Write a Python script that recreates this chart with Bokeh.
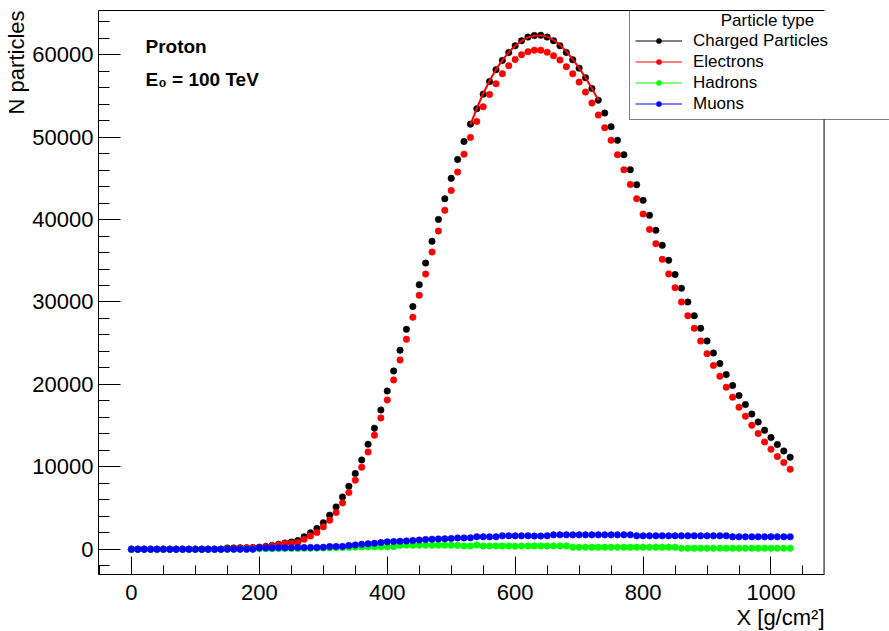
import math
from bokeh.plotting import figure
from bokeh.models import (Range1d, FixedTicker, Label, Legend, LegendItem,
                          ColumnDataSource, CDSView, IndexFilter, Title,
                          LinearAxis)
from bokeh.embed import file_html
from bokeh.resources import INLINE

# ---------------- data ----------------
depth = [0, 10, 20, 30, 40, 50, 60, 70, 80, 90, 100, 110, 120, 130, 140,
         150, 160, 170, 180, 190, 200, 210, 220, 230, 240, 250, 260, 270, 280, 290,
         300, 310, 320, 330, 340, 350, 360, 370, 380, 390, 400, 410, 420, 430, 440,
         450, 460, 470, 480, 490, 500, 510, 520, 530, 540, 550, 560, 570, 580, 590,
         600, 610, 620, 630, 640, 650, 660, 670, 680, 690, 700, 710, 720, 730, 740,
         750, 760, 770, 780, 790, 800, 810, 820, 830, 840, 850, 860, 870, 880, 890,
         900, 910, 920, 930, 940, 950, 960, 970, 980, 990, 1000, 1010, 1020, 1030]

charged = [0, 0, 0, 0, 0, 0, 0, 0, 0, 0, 0, 0, 0, 0, 0,
           150, 160, 170, 180, 200, 250, 330, 460, 600, 760, 860, 1050, 1500, 1990, 2510,
           3200, 4130, 5130, 6340, 7640, 9180, 10830, 12740, 14680, 16900, 19200, 21630, 24140, 26680, 29440,
           32100, 34720, 37360, 40020, 42530, 45000, 47300, 49480, 51580, 53450, 55220, 56760, 58180, 59310, 60280,
           61090, 61700, 62140, 62340, 62360, 62140, 61700, 61090, 60280, 59390, 58370, 57210, 55910, 54490, 52920,
           51270, 49610, 47870, 46050, 44230, 42330, 40510, 38690, 36870, 35050, 33330, 31660, 30000, 28340, 26800,
           25270, 23810, 22520, 21190, 19850, 18640, 17550, 16410, 15440, 14430, 13550, 12700, 11920, 11160]

electrons = [0, 0, 0, 0, 0, 0, 0, 0, 0, 0, 0, 0, 0, 0, 0,
             60, 80, 130, 150, 170, 200, 260, 400, 520, 690, 720, 800, 1210, 1610, 2020,
             2710, 3520, 4450, 5620, 6880, 8370, 9950, 11800, 13830, 15930, 18110, 20540, 22960, 25470, 28140,
             30810, 33390, 36060, 38610, 41120, 43540, 45760, 47940, 49970, 51910, 53690, 55190, 56480, 57700, 58670,
             59430, 60000, 60370, 60560, 60560, 60310, 59880, 59350, 58550, 57700, 56680, 55470, 54140, 52680, 51150,
             49610, 47870, 46050, 44270, 42530, 40670, 38810, 37080, 35170, 33410, 31740, 30000, 28340, 26800, 25260,
             23730, 22280, 20980, 19650, 18440, 17220, 16130, 15040, 14030, 13010, 12130, 11240, 10520, 9700]

hadrons = [0, 0, 0, 0, 0, 0, 0, 0, 0, 0, 0, 0, 0, 0, 0,
           0, 0, 0, 0, 0, 40, 50, 60, 70, 80, 90, 100, 110, 120, 130,
           150, 160, 180, 200, 220, 240, 270, 280, 290, 290, 300, 310, 470, 480, 480,
           490, 490, 480, 490, 480, 470, 460, 390, 380, 510, 400, 380, 400, 380, 380,
           370, 380, 380, 400, 400, 390, 400, 390, 400, 240, 240, 240, 240, 240, 240,
           240, 240, 240, 240, 240, 240, 240, 240, 240, 240, 240, 120, 120, 120, 120,
           120, 120, 120, 120, 120, 120, 120, 120, 120, 120, 120, 120, 120, 120]

muons = [0, 0, 0, 0, 0, 0, 0, 0, 0, 0, 0, 0, 0, 0, 0,
         0, 0, 0, 0, 0, 160, 160, 160, 170, 170, 180, 200, 200, 210, 220,
         230, 320, 330, 340, 450, 520, 600, 660, 720, 800, 890, 930, 970, 1010, 1050,
         1110, 1170, 1210, 1250, 1260, 1290, 1370, 1370, 1380, 1500, 1500, 1500, 1510, 1620, 1620,
         1620, 1620, 1630, 1590, 1590, 1620, 1740, 1740, 1740, 1740, 1740, 1740, 1740, 1740, 1740,
         1740, 1740, 1740, 1740, 1620, 1620, 1620, 1620, 1620, 1620, 1620, 1620, 1620, 1620, 1620,
         1620, 1620, 1620, 1620, 1500, 1500, 1500, 1500, 1500, 1500, 1500, 1500, 1500, 1500]

fit_x = [530, 540, 550, 560, 570, 580, 590, 600, 610, 620, 630,
         640, 650, 660, 670, 680, 690, 700, 710, 720, 730]
fit_y = [51500, 53500, 55300, 56850, 58200, 59350, 60300, 61100, 61700, 62100, 62300,
         62350, 62200, 61800, 61200, 60400, 59450, 58400, 57200, 55900, 54500]

series_names = ["Charged Particles", "Electrons", "Hadrons", "Muons"]
series_colors = ["#000000", "#ff0000", "#00ff00", "#0000ff"]
series_values = [charged, electrons, hadrons, muons]

x_major = [0, 200, 400, 600, 800, 1000]
x_minor = [-50, 0, 50, 100, 150, 200, 250, 300, 350, 400, 450, 500, 550,
           600, 650, 700, 750, 800, 850, 900, 950, 1000, 1050]
y_major = [0, 10000, 20000, 30000, 40000, 50000, 60000]
y_minor = [v for v in range(-2000, 66000, 2000)]

X_LO, X_HI = -51.5, 1083.0          # ROOT frame range along x
Y_LO, Y_HI = -3070.0, 65370.0
LEGEND_BOTTOM = 52150.0             # where the right frame line meets the legend box

FONT = "Liberation Sans"

# ---------------- figure ----------------
p = figure(width=889, height=631, output_backend="svg", toolbar_location=None,
           x_range=Range1d(X_LO, 1185.3), y_range=Range1d(Y_LO, Y_HI),
           min_border_left=98, min_border_right=0, min_border_top=10,
           min_border_bottom=57)
p.xgrid.visible = False
p.ygrid.visible = False
p.outline_line_color = None
p.background_fill_color = "white"
p.border_fill_color = "white"

p.xaxis.ticker = FixedTicker(ticks=x_major, minor_ticks=x_minor)
p.xaxis.bounds = (X_LO, X_HI)
p.yaxis.ticker = FixedTicker(ticks=y_major, minor_ticks=y_minor)
for ax in (p.xaxis[0], p.yaxis[0]):
    ax.axis_line_color = "black"
    ax.major_tick_line_color = "black"
    ax.minor_tick_line_color = "black"
    ax.major_tick_out = 0
    ax.minor_tick_out = 0
    ax.major_label_text_font = FONT
    ax.major_label_text_font_size = "22px"
    ax.major_label_text_color = "black"
p.xaxis.major_tick_in = 18
p.xaxis.minor_tick_in = 9
p.xaxis.major_label_standoff = 10
p.yaxis.major_tick_in = 22
p.yaxis.minor_tick_in = 11
p.yaxis.major_label_standoff = 5

# top frame line
top_ax = LinearAxis(ticker=FixedTicker(ticks=[]), bounds=(X_LO, X_HI),
                    major_tick_in=0, major_tick_out=0, minor_tick_in=0,
                    minor_tick_out=0, major_label_text_font_size="0px",
                    axis_line_color="black")
p.add_layout(top_ax, "above")
# right frame line (stops at the legend box)
p.segment(x0=[X_HI], y0=[Y_LO], x1=[X_HI], y1=[LEGEND_BOTTOM],
          line_color="black", line_width=1)

# axis titles
p.add_layout(Title(text="N particles", align="right", text_font=FONT,
                   text_font_size="22px", text_font_style="normal",
                   text_color="black", standoff=2), "left")
p.add_layout(Title(text="X [g/cm\u00b2]", align="right", text_font=FONT,
                   text_font_size="22px", text_font_style="normal",
                   text_color="black", standoff=0, offset=65), "below")

# ---------------- data renderers ----------------
items = []
for name, color, vals in zip(series_names, series_colors, series_values):
    src = ColumnDataSource(dict(x=depth, y=vals))
    sr = p.scatter("x", "y", source=src, marker="circle", size=6.5,
                   fill_color=color, line_color=color, line_width=0.5)
    # single-point line: draws nothing in the plot, gives the legend its line
    lr = p.line("x", "y", source=src, view=CDSView(filter=IndexFilter(indices=[0])),
                line_color=color, line_width=1)
    items.append(LegendItem(label=name, renderers=[lr, sr]))

p.line(fit_x, fit_y, line_color="#ff0000", line_width=2)

# ---------------- legend ----------------
p.add_layout(Label(x=994.5, y=64160, text="Particle type", text_align="center",
                   text_baseline="alphabetic", text_font=FONT,
                   text_font_size="17px", text_color="black"))

legend = Legend(items=items, location=(531, 454), orientation="vertical",
                title=" ", title_text_font_size="13px", title_standoff=1,
                padding=5, spacing=0, margin=0,
                glyph_width=47, glyph_height=13, label_height=21,
                label_width=192, label_standoff=11,
                label_text_font=FONT, label_text_font_size="17px",
                label_text_color="black",
                border_line_color="black", border_line_width=1,
                background_fill_alpha=0.0)
p.add_layout(legend)

# ---------------- texts ----------------
p.add_layout(Label(x=22, y=60970, text="Proton", text_font=FONT,
                   text_font_size="19px", text_font_style="bold",
                   text_baseline="alphabetic", text_color="black"))
p.add_layout(Label(x=22, y=56970, text="E\u2080 = 100 TeV", text_font=FONT,
                   text_font_size="19px", text_font_style="bold",
                   text_baseline="alphabetic", text_color="black"))

open("out.html", "w").write(file_html(p, INLINE))
